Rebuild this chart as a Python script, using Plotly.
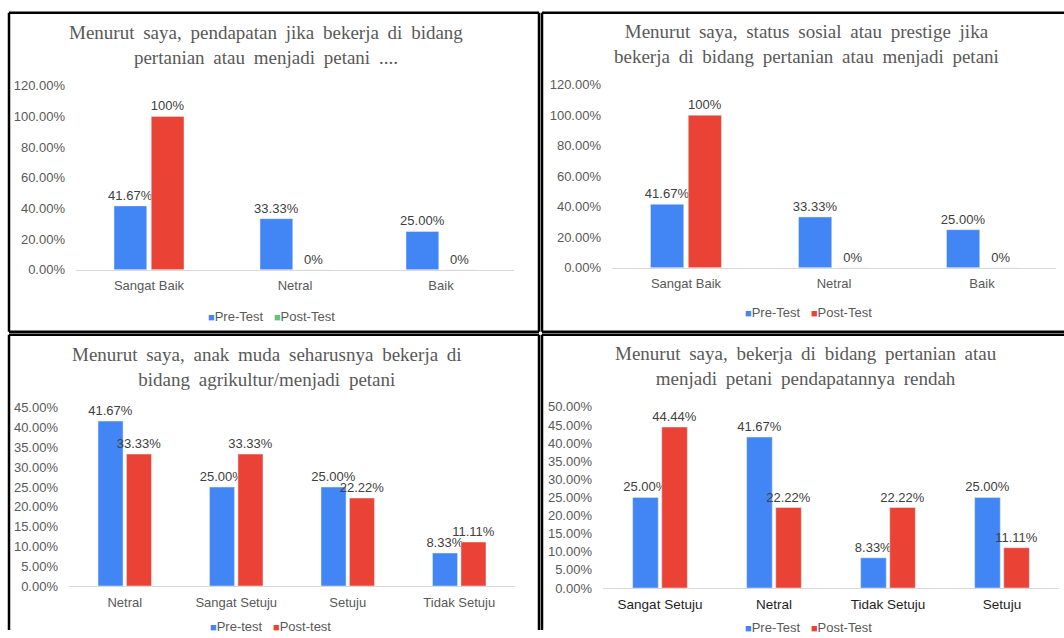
import plotly.graph_objects as go

W, H = 1064, 638

# ---------------- data ----------------
titles = [
    "Menurut saya, pendapatan jika bekerja di bidang<br>pertanian atau menjadi petani ....",
    "Menurut saya, status sosial atau prestige jika<br>bekerja di bidang pertanian atau menjadi petani",
    "Menurut saya, anak muda seharusnya bekerja di<br>bidang agrikultur/menjadi petani",
    "Menurut saya, bekerja di bidang pertanian atau<br>menjadi petani pendapatannya rendah",
]

cats1 = ["Sangat Baik", "Netral", "Baik"]
pre1 = [0.4167, 0.3333, 0.25]
post1 = [1.00, 0.0, 0.0]

cats2 = ["Sangat Baik", "Netral", "Baik"]
pre2 = [0.4167, 0.3333, 0.25]
post2 = [1.00, 0.0, 0.0]

cats3 = ["Netral", "Sangat Setuju", "Setuju", "Tidak Setuju"]
pre3 = [0.4167, 0.25, 0.25, 0.0833]
post3 = [0.3333, 0.3333, 0.2222, 0.1111]

cats4 = ["Sangat Setuju", "Netral", "Tidak Setuju", "Setuju"]
pre4 = [0.25, 0.4167, 0.0833, 0.25]
post4 = [0.4444, 0.2222, 0.2222, 0.1111]

legend_names = [
    ("Pre-Test", "Post-Test"),
    ("Pre-Test", "Post-Test"),
    ("Pre-test", "Post-test"),
    ("Pre-Test", "Post-Test"),
]

# ---------------- style ----------------
BLUE = "#4285F4"
RED = "#EA4335"
GREEN = "#5CC47C"
SANS = "Liberation Sans, Arial, sans-serif"
SERIF = "Liberation Serif, Times New Roman, serif"

# vertical mapping measured for the photographed page
SY, CY = 0.976, 6.3


def px_x(v):
    return v / W


def px_y(v):
    d = (v - CY) / SY
    d = min(max(d, 0), H)
    return 1 - d / H


panels = [
    dict(cats=cats1, pre=pre1, post=post1, fmt_post="%{y:.0%}", rng=[0, 1.2], dtick=0.2,
         xd=(76, 514), yd=(269, 85), title_xy=(266, 44.5), leg_xy=(271, 316),
         leg_swatch=(BLUE, GREEN), catcolor="#595959", catsize=13),
    dict(cats=cats2, pre=pre2, post=post2, fmt_post="%{y:.0%}", rng=[0, 1.2], dtick=0.2,
         xd=(612, 1056), yd=(267, 84), title_xy=(806, 43), leg_xy=(808, 312),
         leg_swatch=(BLUE, RED), catcolor="#595959", catsize=13),
    dict(cats=cats3, pre=pre3, post=post3, fmt_post="%{y:.2%}", rng=[0, 0.45], dtick=0.05,
         xd=(69, 515), yd=(585, 407), title_xy=(267, 366.5), leg_xy=(270, 625),
         leg_swatch=(BLUE, RED), catcolor="#595959", catsize=13),
    dict(cats=cats4, pre=pre4, post=post4, fmt_post="%{y:.2%}", rng=[0, 0.5], dtick=0.05,
         xd=(603, 1059), yd=(587, 406), title_xy=(806, 365), leg_xy=(808, 626),
         leg_swatch=(BLUE, RED), catcolor="#1e1e1e", catsize=13.5),
]

fig = go.Figure()
annotations = []
layout_axes = {}

for i, p in enumerate(panels):
    n = "" if i == 0 else str(i + 1)
    xa, ya = "x" + n, "y" + n
    fig.add_trace(go.Bar(
        x=p["cats"], y=p["pre"], xaxis=xa, yaxis=ya, marker_color=BLUE,
        texttemplate="%{y:.2%}", textposition="outside", cliponaxis=False,
        constraintext="none",
        textfont=dict(family=SANS, size=13, color="#404040"),
        showlegend=False, name=legend_names[i][0]))
    fig.add_trace(go.Bar(
        x=p["cats"], y=p["post"], xaxis=xa, yaxis=ya, marker_color=RED,
        texttemplate=p["fmt_post"], textposition="outside", cliponaxis=False,
        constraintext="none",
        textfont=dict(family=SANS, size=13, color="#404040"),
        showlegend=False, name=legend_names[i][1]))

    layout_axes["xaxis" + n] = dict(
        domain=[px_x(p["xd"][0]), px_x(p["xd"][1])], anchor=ya,
        showline=True, linecolor="#D9D9D9", linewidth=1, showgrid=False,
        ticks="", ticklabelstandoff=4,
        tickfont=dict(family=SANS, size=p["catsize"], color=p["catcolor"]),
        fixedrange=True)
    layout_axes["yaxis" + n] = dict(
        domain=[px_y(p["yd"][0]), px_y(p["yd"][1])], anchor=xa,
        range=p["rng"], dtick=p["dtick"], tick0=0, tickformat=".2%",
        showgrid=False, zeroline=False, showline=False, ticks="",
        ticklabelstandoff=10,
        tickfont=dict(family=SANS, size=13, color="#595959"),
        fixedrange=True)

    t = titles[i].split("<br>")
    title_html = "<br>".join(f"<span style='word-spacing:4px'>{s}</span>" for s in t)
    annotations.append(dict(
        text=title_html, xref="paper", yref="paper",
        x=px_x(p["title_xy"][0]), y=px_y(p["title_xy"][1]),
        xanchor="center", yanchor="middle", showarrow=False,
        font=dict(family=SERIF, size=19, color="#595959")))

    c1, c2 = p["leg_swatch"]
    leg_text = (f"<span style='color:{c1};font-size:11px'>■</span>{legend_names[i][0]}"
                f"   <span style='color:{c2};font-size:11px'>■</span>{legend_names[i][1]}")
    annotations.append(dict(
        text=leg_text, xref="paper", yref="paper",
        x=px_x(p["leg_xy"][0]), y=px_y(p["leg_xy"][1]),
        xanchor="center", yanchor="middle", showarrow=False,
        font=dict(family=SANS, size=13, color="#595959")))

# panel border segments (picture pixel coordinates)
segments = [
    (9, 12, 539, 12), (9, 331, 539, 331), (9, 12, 9, 331), (539, 12, 539, 331),
    (542, 12, 1064, 12), (542, 331, 1064, 331), (542, 12, 542, 331),
    (9, 334, 539, 334), (9, 334, 9, 660), (539, 334, 539, 660),
    (542, 334, 1064, 334), (542, 334, 542, 660),
]
shapes = []
for (x0, y0, x1, y1) in segments:
    shapes.append(dict(type="line", xref="paper", yref="paper",
                       x0=px_x(x0), x1=px_x(x1), y0=px_y(y0), y1=px_y(y1),
                       line=dict(color="#000000", width=2.5), layer="above"))

fig.update_layout(
    width=W, height=H, margin=dict(l=0, r=0, t=0, b=0),
    paper_bgcolor="white", plot_bgcolor="white",
    barmode="group", bargap=0.49, bargroupgap=0.12, hovermode=False,
    annotations=annotations, shapes=shapes, showlegend=False,
    **layout_axes)

fig.write_html("out.html", config={"displayModeBar": False, "staticPlot": True},
               post_script="document.body.style.margin='0';document.body.style.overflow='hidden';")
